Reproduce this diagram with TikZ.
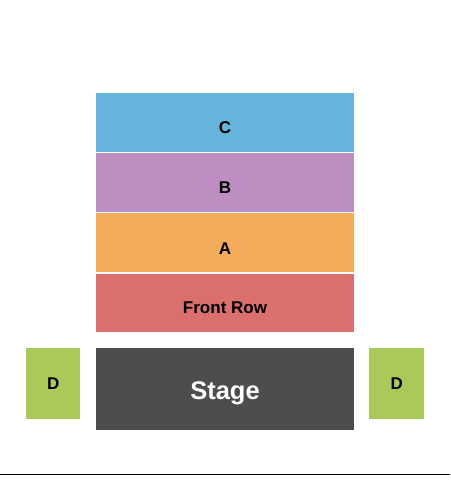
\documentclass[tikz,border=0pt]{standalone}
\usepackage{fontspec}
\setmainfont{Liberation Sans}
\definecolor{secC}{HTML}{65B4DC}
\definecolor{secB}{HTML}{BE8DC1}
\definecolor{secA}{HTML}{F3AC59}
\definecolor{secF}{HTML}{DA6F6E}
\definecolor{secS}{HTML}{4D4D4D}
\definecolor{secD}{HTML}{A9C95A}
\definecolor{baseline}{HTML}{A6A6A6}
\begin{document}
\begin{tikzpicture}[x=1pt,y=-1pt,
  sect/.style={draw=none,inner sep=0pt,outer sep=0pt,rectangle},
  lbl/.style={anchor=base,inner sep=0pt,font=\fontsize{17}{19}\selectfont\bfseries,text=black},
  stagelbl/.style={anchor=base,inner sep=0pt,font=\fontsize{25.5}{28}\selectfont\bfseries,text=white}]
\fill[white] (0,0) rectangle (450,500);
\useasboundingbox (0,0) rectangle (450,500);
% sections
\node[sect,fill=secC,minimum width=258pt,minimum height=59pt] (C) at (225,122.2) {};
\node[sect,fill=secB,minimum width=258pt,minimum height=59.5pt] (B) at (225,182.5) {};
\node[sect,fill=secA,minimum width=258pt,minimum height=59pt] (A) at (225,242.8) {};
\node[sect,fill=secF,minimum width=258pt,minimum height=58pt] (F) at (225,303) {};
\node[sect,fill=secS,minimum width=258pt,minimum height=82pt] (S) at (225,389) {};
\node[sect,fill=secD,minimum width=54.5pt,minimum height=71pt] (DL) at (53.2,383.5) {};
\node[sect,fill=secD,minimum width=54.5pt,minimum height=71pt] (DR) at (396.7,383.5) {};
% labels
\node[lbl] (tC) at (225,133.3) {C};
\node[lbl] (tB) at (225,193.3) {B};
\node[lbl] (tA) at (225,254) {A};
\node[lbl] (tF) at (225,313.5) {Front Row};
\node[stagelbl] (tS) at (225,399.5) {Stage};
\node[lbl] (tDL) at (53.2,389.5) {D};
\node[lbl] (tDR) at (396.7,389.5) {D};
% ground line
\coordinate (g1) at (0,474.3);
\coordinate (g2) at (450,474.3);
\draw[baseline,line width=0.9pt] (g1) -- (g2);
\end{tikzpicture}
\end{document}
